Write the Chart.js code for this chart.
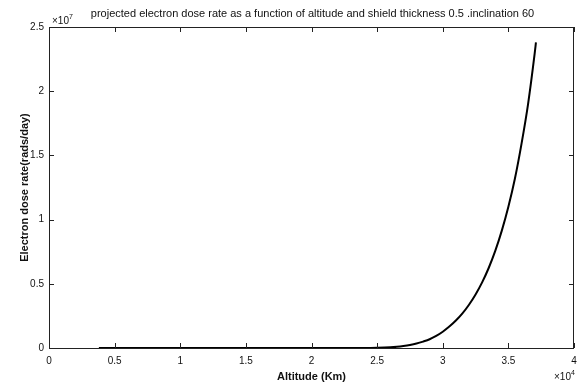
<!DOCTYPE html>
<html>
<head>
<meta charset="utf-8">
<script src="https://cdn.jsdelivr.net/npm/chart.js@4.4.1/dist/chart.umd.min.js"></script>
<style>
  html, body { margin: 0; padding: 0; background: #fff; }
  #wrap { width: 587px; height: 385px; position: relative; }
</style>
</head>
<body>
<div id="wrap"><canvas id="doseChart"></canvas></div>
<script>
// altitude (km) and electron dose rate (rads/day)
const altitudes = [3800, 10000, 15000, 20000, 24000, 25000, 26000, 26500, 27000, 27500,
                   28000, 28500, 29000, 29500, 30000, 30500, 31000, 31500, 32000, 32500,
                   33000, 33500, 34000, 34500, 35000, 35500, 36000, 36500, 37000, 37100];
const doseRates = [0, 0, 0, 0, 5000, 20000, 60000, 100000, 160000, 240000,
                   350000, 500000, 680000, 940000, 1270000, 1670000, 2140000, 2700000, 3370000, 4170000,
                   5110000, 6230000, 7560000, 9140000, 11000000, 13200000, 15900000, 19000000, 22900000, 23800000];

const xTicks = [0, 5000, 10000, 15000, 20000, 25000, 30000, 35000, 40000];
const yTicks = [0, 5e6, 1e7, 1.5e7, 2e7, 2.5e7];

const title = 'projected electron dose rate as a function of altitude and shield thickness 0.5 .inclination 60';
const xLabel = 'Altitude (Km)';
const yLabel = 'Electron dose rate(rads/day)';

const narrow = "'Liberation Sans Narrow', 'Arial Narrow', 'Liberation Sans', Arial, sans-serif";
const plain = "'Liberation Sans', Arial, sans-serif";

// box, inward ticks, title and the x10^n multipliers (matlab style)
const boxPlugin = {
    id: 'box',
    afterDraw(chart) {
        const { ctx, chartArea: a, scales } = chart;
        ctx.save();
        ctx.strokeStyle = '#222';
        ctx.lineWidth = 1;
        ctx.strokeRect(a.left + 0.5, a.top + 0.5, a.right - a.left - 1, a.bottom - a.top);

        ctx.beginPath();
        xTicks.forEach(v => {
            const px = Math.round(scales.x.getPixelForValue(v)) + 0.5;
            ctx.moveTo(px, a.bottom); ctx.lineTo(px, a.bottom - 5);
            ctx.moveTo(px, a.top); ctx.lineTo(px, a.top + 5);
        });
        yTicks.forEach(v => {
            const py = Math.round(scales.y.getPixelForValue(v)) + 0.5;
            ctx.moveTo(a.left, py); ctx.lineTo(a.left + 5, py);
            ctx.moveTo(a.right, py); ctx.lineTo(a.right - 5, py);
        });
        ctx.stroke();

        ctx.fillStyle = '#111';
        ctx.textBaseline = 'alphabetic';
        ctx.textAlign = 'center';
        ctx.font = '11px ' + narrow;
        ctx.fillText(title, (a.left + a.right) / 2 + 1, a.top - 10);

        ctx.textAlign = 'left';
        ctx.font = '10px ' + narrow;
        ctx.fillText('\u00d710', a.left + 3, a.top - 3);
        ctx.font = '7px ' + narrow;
        ctx.fillText('7', a.left + 20, a.top - 8);
        ctx.font = '10px ' + narrow;
        ctx.fillText('\u00d710', a.right - 20, a.bottom + 32);
        ctx.font = '7px ' + narrow;
        ctx.fillText('4', a.right - 3, a.bottom + 27);
        ctx.restore();
    }
};

new Chart(document.getElementById('doseChart'), {
    type: 'line',
    data: {
        datasets: [{
            data: altitudes.map((x, i) => ({ x: x, y: doseRates[i] })),
            borderColor: '#000',
            borderWidth: 2,
            pointRadius: 0,
            cubicInterpolationMode: 'monotone',
            fill: false
        }]
    },
    options: {
        responsive: true,
        maintainAspectRatio: false,
        animation: false,
        layout: { padding: { left: 0, right: 13, top: 27, bottom: 0 } },
        plugins: {
            legend: { display: false },
            tooltip: { enabled: false },
            title: { display: false }
        },
        scales: {
            x: {
                type: 'linear',
                min: 0, max: 40000,
                afterBuildTicks: s => { s.ticks = xTicks.map(v => ({ value: v })); },
                afterFit: s => { s.height = 37; },
                grid: { display: false, drawTicks: false, tickLength: 0 },
                border: { display: false },
                ticks: {
                    color: '#111',
                    padding: 7,
                    maxRotation: 0,
                    font: { family: narrow, size: 10 },
                    callback: v => String(v / 1e4)
                },
                title: {
                    display: true,
                    text: xLabel,
                    color: '#111',
                    font: { family: narrow, size: 11, weight: 'bold' },
                    padding: { top: 0, bottom: 1 }
                }
            },
            y: {
                type: 'linear',
                min: 0, max: 2.5e7,
                afterBuildTicks: s => { s.ticks = yTicks.map(v => ({ value: v })); },
                afterFit: s => { s.width = 49; },
                grid: { display: false, drawTicks: false, tickLength: 0 },
                border: { display: false },
                ticks: {
                    color: '#111',
                    padding: 5,
                    font: { family: narrow, size: 10 },
                    callback: v => String(v / 1e7)
                },
                title: {
                    display: true,
                    text: yLabel,
                    color: '#111',
                    font: { family: plain, size: 11, weight: 'bold' },
                    padding: { top: 18, bottom: 0 }
                }
            }
        }
    },
    plugins: [boxPlugin]
});
</script>
</body>
</html>
